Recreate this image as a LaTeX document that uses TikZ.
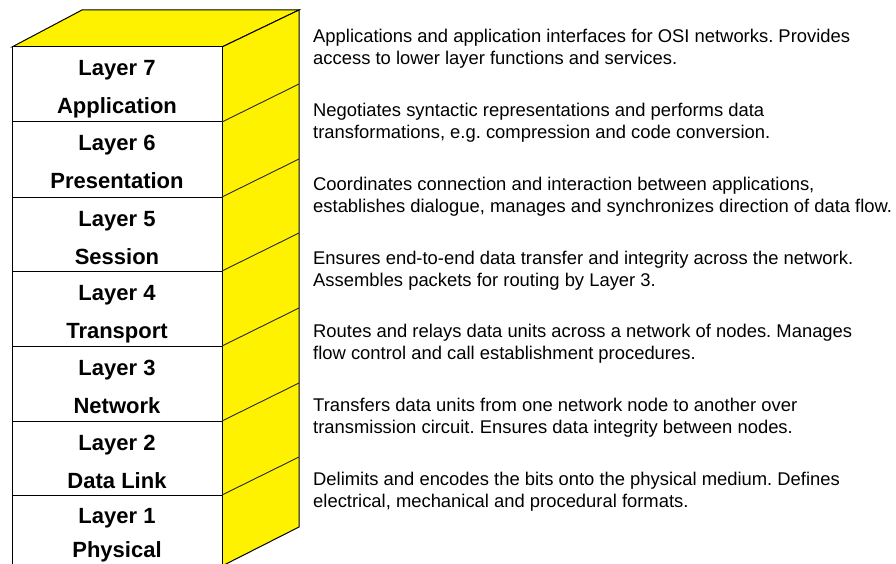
\documentclass[tikz,border=0pt]{standalone}
\usepackage{fontspec}
\setmainfont{Liberation Sans}
\frenchspacing
\begin{document}
\begin{tikzpicture}[x=1pt,y=-1pt,
  cubeline/.style={draw=black,line width=1pt},
  sideline/.style={draw=black!85,line width=0.9pt},
  layertext/.style={font=\fontsize{22}{26}\selectfont\bfseries,inner sep=0pt,anchor=base},
  desc/.style={font=\frenchspacing\fontsize{18.4}{22}\selectfont,inner sep=0pt,anchor=base west,align=left}]
\useasboundingbox (0,0) rectangle (896,564);
\clip (0,0) rectangle (896,564);
\fill[white] (0,0) rectangle (896,564);
% top face
\filldraw[fill=yellow,cubeline] (12,47) -- (82,10) -- (299,10) -- (222,47) -- cycle;
% side face
\filldraw[fill=yellow,cubeline] (222,47) -- (299,10) -- (299,527) -- (222,566) -- cycle;
% front face
\filldraw[fill=white,cubeline] (12,47) rectangle (222,600);
% layer boundaries
\foreach \y in {122,197,271,346,421,495}{
  \draw[cubeline] (12,\y) -- (222,\y);
  \draw[sideline] (222,\y) -- (299,\y-38);
}
% layer labels
\foreach \n/\t/\name in {7/47/Application,6/122/Presentation,5/197/Session,4/271/Transport,3/346/Network,2/421/Data Link}{
  \node[layertext] (lay\n) at (117,\t+29) {Layer \n};
  \node[layertext] (name\n) at (117,\t+67) {\name};
}
\node[layertext] (lay1) at (117,523) {Layer 1};
\node[layertext] (name1) at (117,557) {Physical};
% descriptions (anchor = baseline of last line)
\node[desc] (d7) at (313,65) {Applications and application interfaces for OSI networks. Provides\\access to lower layer functions and services.};
\node[desc] (d6) at (313,138.7) {Negotiates syntactic representations and performs data\\transformations, e.g. compression and code conversion.};
\node[desc] (d5) at (313,212.4) {Coordinates connection and interaction between applications,\\establishes dialogue, manages and synchronizes direction of data flow.};
\node[desc] (d4) at (313,286.1) {Ensures end-to-end data transfer and integrity across the network.\\Assembles packets for routing by Layer 3.};
\node[desc] (d3) at (313,359.8) {Routes and relays data units across a network of nodes. Manages\\flow control and call establishment procedures.};
\node[desc] (d2) at (313,433.5) {Transfers data units from one network node to another over\\transmission circuit. Ensures data integrity between nodes.};
\node[desc] (d1) at (313,507.2) {Delimits and encodes the bits onto the physical medium. Defines\\electrical, mechanical and procedural formats.};
\end{tikzpicture}
\end{document}
